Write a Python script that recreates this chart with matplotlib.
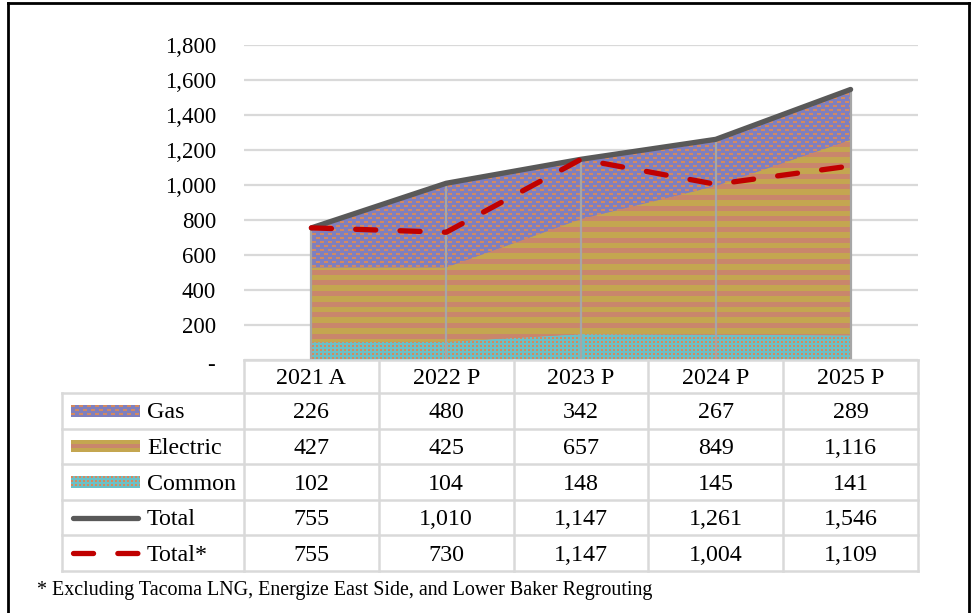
import numpy as np
import matplotlib
matplotlib.use("Agg")
import matplotlib.pyplot as plt
from matplotlib.colors import to_rgb

# ---------------- data ----------------
years = ["2021 A", "2022 P", "2023 P", "2024 P", "2025 P"]
gas = [226, 480, 342, 267, 289]
electric = [427, 425, 657, 849, 1116]
common = [102, 104, 148, 145, 141]
total = [755, 1010, 1147, 1261, 1546]
total_star = [755, 730, 1147, 1004, 1109]
series_names = ["Gas", "Electric", "Common", "Total", "Total*"]
yticks = [0, 200, 400, 600, 800, 1000, 1200, 1400, 1600, 1800]
ytick_labels = ["", "200", "400", "600", "800", "1,000", "1,200", "1,400", "1,600", "1,800"]
footnote = "* Excluding Tacoma LNG, Energize East Side, and Lower Baker Regrouting"

# ---------------- style ----------------
FONT = "Liberation Serif"
FS_TICK = 16.5
FS_TAB = 17.3
ORANGE = np.array(to_rgb("#D4895F"))
GAS_BASE = np.array(to_rgb("#7F7FBE"))
EL_GOLD = np.array(to_rgb("#C4A650"))
EL_SALMON = np.array(to_rgb("#C9866C"))
COM_BASE = np.array(to_rgb("#6CC0C6"))
GRID = "#D9D9D9"
TOTAL_C = "#595959"
STAR_C = "#C00000"

W_PX, H_PX = 975, 613
fig = plt.figure(figsize=(W_PX / 100, H_PX / 100), dpi=100)
fig.patch.set_facecolor("white")


def pat_gas(h, w):
    r, c = np.mgrid[0:h, 0:w]
    img = np.ones((h, w, 3)) * GAS_BASE
    off = ((r // 4) % 2) * 4
    m = ((r % 4) < 2) & (((c + off) % 8) < 4)
    img[m] = ORANGE
    return img


def pat_elec(h, w):
    r, c = np.mgrid[0:h, 0:w]
    img = np.ones((h, w, 3)) * EL_GOLD
    m = ((r / 10.67) % 1.0) < 0.47
    img[m] = EL_SALMON
    return img


def pat_common(h, w):
    r, c = np.mgrid[0:h, 0:w]
    img = np.ones((h, w, 3)) * COM_BASE
    m = ((r % 4) < 2) & ((c % 4) < 2)
    img[m] = ORANGE
    return img


# ---------------- main plot area ----------------
ax_l, ax_r, ax_t, ax_b = 244, 918, 45, 360
ax = fig.add_axes([ax_l / W_PX, 1 - ax_b / H_PX, (ax_r - ax_l) / W_PX, (ax_b - ax_t) / H_PX])
x = np.arange(len(years))
for s in ax.spines.values():
    s.set_visible(False)
ax.set_xticks([])
ax.set_yticks(yticks)
ax.set_yticklabels(ytick_labels, fontfamily=FONT, fontsize=FS_TICK)
ax.tick_params(axis="y", length=0, pad=20)
ax.yaxis.grid(True, color=GRID, lw=1.6)
ax.set_axisbelow(True)

c_arr = np.array(common)
e_arr = c_arr + np.array(electric)
g_arr = e_arr + np.array(gas)

imgH, imgW = ax_b - ax_t, ax_r - ax_l
layers = [
    (np.zeros(len(x)), c_arr, pat_common),
    (c_arr, e_arr, pat_elec),
    (e_arr, g_arr, pat_gas),
]
for lo, hi, pf in layers:
    poly = ax.fill_between(x, lo, hi, color=pf(1, 1)[0, 0], lw=0, zorder=2)
    im = ax.imshow(pf(imgH, imgW), extent=(-0.5, len(years) - 0.5, 0, 1800),
                   aspect="auto", interpolation="nearest", origin="upper", zorder=2.1)
    im.set_clip_path(poly.get_paths()[0], ax.transData)

ax.set_xlim(-0.5, len(years) - 0.5)
ax.set_ylim(0, 1800)

# drop lines
ax.vlines(x, 0, total, color="#A6A6A6", lw=1.6, zorder=3)

ax.plot(x, total, color=TOTAL_C, lw=3.8, solid_capstyle="round",
        solid_joinstyle="round", zorder=4, clip_on=False)
ax.plot(x, total_star, color=STAR_C, lw=3.8, linestyle=(0, (3.8, 4.6)),
        dash_capstyle="round", zorder=5, clip_on=False)

# ---------------- overlay for table, border, footnote ----------------
ov = fig.add_axes([0, 0, 1, 1], zorder=10)
ov.axis("off")

col_edges = np.linspace(244, 918, len(years) + 1)
row_edges = np.linspace(393, 571, 6)
tab_left = 62
lc = GRID
lw_t = 1.8

# zero tick label (accounting dash)
ov.text(211, 366, "-", ha="center", va="center", fontfamily=FONT, fontsize=FS_TICK)

ov.plot([244, 918], [360, 360], color=lc, lw=lw_t)
for xe in col_edges:
    ov.plot([xe, xe], [360, 571], color=lc, lw=lw_t)
for ye in row_edges:
    ov.plot([tab_left, 918], [ye, ye], color=lc, lw=lw_t)
ov.plot([tab_left, tab_left], [393, 571], color=lc, lw=lw_t)

for i, yr in enumerate(years):
    cx = (col_edges[i] + col_edges[i + 1]) / 2
    ov.text(cx, 378, yr, ha="center", va="center", fontfamily=FONT, fontsize=FS_TAB)

rows_vals = [gas, electric, common, total, total_star]
for j, vals in enumerate(rows_vals):
    cy = (row_edges[j] + row_edges[j + 1]) / 2
    for i, v in enumerate(vals):
        cx = (col_edges[i] + col_edges[i + 1]) / 2
        ov.text(cx, cy + 2, f"{v:,}", ha="center", va="center",
                fontfamily=FONT, fontsize=FS_TAB)
    ov.text(147, cy + 2, series_names[j], ha="left", va="center",
            fontfamily=FONT, fontsize=FS_TAB)

# legend swatches
sw_l, sw_r = 71, 140
pfs = [pat_gas, pat_elec, pat_common]
for j, pf in enumerate(pfs):
    cy = (row_edges[j] + row_edges[j + 1]) / 2
    hgt = 12
    if pf is pat_elec:
        img = np.ones((hgt, sw_r - sw_l, 3)) * EL_GOLD
        img[4:8] = EL_SALMON
    else:
        img = pf(hgt, sw_r - sw_l)
    ov.imshow(img, extent=(sw_l, sw_r, cy + hgt / 2, cy - hgt / 2),
              aspect="auto", interpolation="nearest", origin="upper")
cy = (row_edges[3] + row_edges[4]) / 2
ov.plot([sw_l + 2, sw_r - 2], [cy, cy], color=TOTAL_C, lw=3.8, solid_capstyle="round")
cy = (row_edges[4] + row_edges[5]) / 2
ov.plot([sw_l + 2, sw_r - 2], [cy, cy], color=STAR_C, lw=3.8,
        linestyle=(0, (3.8, 4.6)), dash_capstyle="round")

# footnote
ov.text(37, 590, footnote, ha="left", va="center", fontfamily=FONT, fontsize=14.4)

# outer border
ov.plot([8, 8], [3, 613], color="black", lw=2)
ov.plot([8, 969], [3, 3], color="black", lw=2)
ov.plot([969, 969], [3, 613], color="black", lw=2)

ov.set_xlim(0, W_PX)
ov.set_ylim(H_PX, 0)

fig.savefig("out.png", dpi=100)
